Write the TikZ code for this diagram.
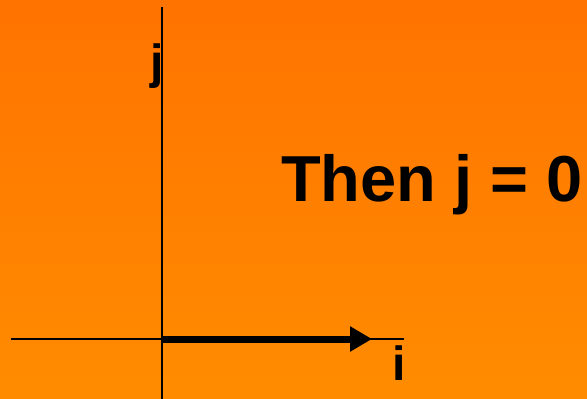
\documentclass[tikz,border=0pt]{standalone}
\usepackage{fontspec}
\setmainfont{Liberation Sans}
\usetikzlibrary{arrows.meta}
\definecolor{bgtop}{RGB}{255,115,0}
\definecolor{bgbot}{RGB}{255,140,0}
\begin{document}
\begin{tikzpicture}[x=1pt,y=-1pt,
  axis/.style={line width=1.5pt,black},
  vec/.style={line width=7pt,black,-{Triangle[length=22pt,width=24pt]}},
  lbl/.style={font=\bfseries\fontsize{48}{48}\selectfont,anchor=base,inner sep=0pt}]
\shade[top color=bgtop,bottom color=bgbot] (0,0) rectangle (587,399);
\useasboundingbox (0,0) rectangle (587,399);
\coordinate (vtop) at (162,7);
\coordinate (vbot) at (162,399);
\coordinate (hl) at (11,339);
\coordinate (hr) at (404,339);
\coordinate (o) at (162,339);
\coordinate (tip) at (372,339);
\draw[axis] (vtop) -- (vbot);
\draw[axis] (hl) -- (hr);
\draw[vec] (o) -- (tip);
\node[lbl] (j) at (157,78) {j};
\node[lbl] (i) at (399,380) {i};
\node[font=\bfseries\fontsize{65}{65}\selectfont,anchor=base,inner sep=0pt] (then) at (432,201) {Then j = 0};
\end{tikzpicture}
\end{document}
